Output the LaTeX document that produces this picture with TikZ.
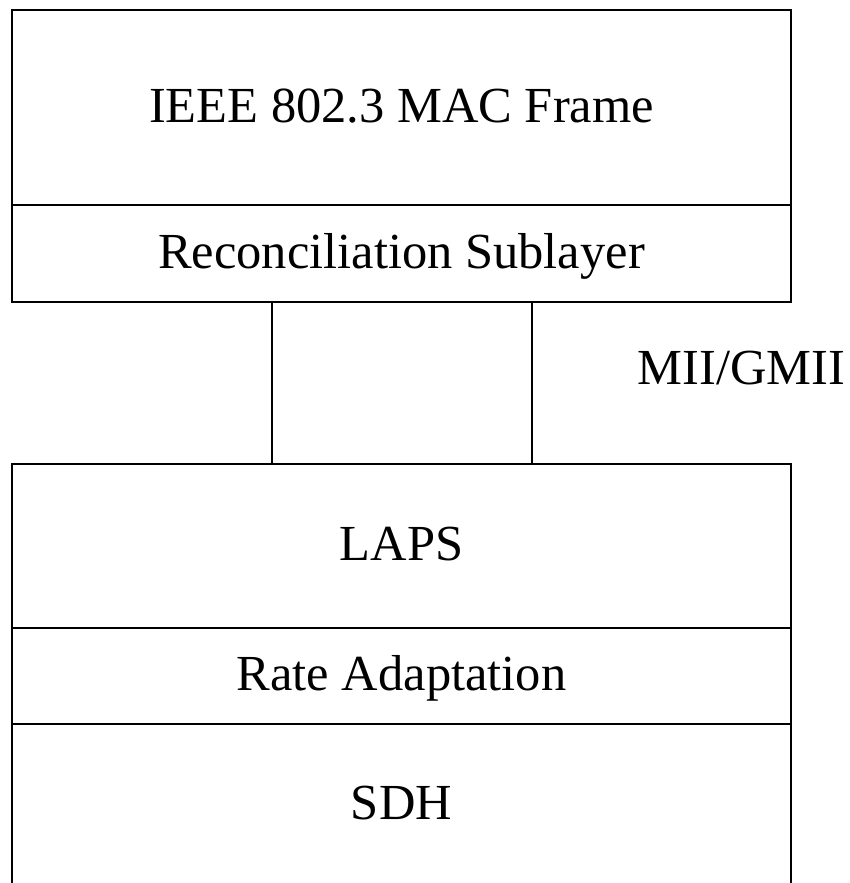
\documentclass[tikz,border=0pt]{standalone}
\usepackage{fontspec}
\setmainfont{Liberation Serif}
\usetikzlibrary{positioning}
\tikzset{
  layer/.style={
    rectangle,
    draw=black,
    line width=1pt,
    outer sep=0pt,
    inner sep=0pt,
    minimum width=389.5pt,
    text height=17.7pt,
    text depth=3pt,
    font=\fontsize{25.25}{30}\selectfont
  },
  label-text/.style={
    inner sep=0pt,
    text height=17.7pt,
    text depth=3pt,
    font=\fontsize{25.25}{30}\selectfont
  },
  link/.style={line width=1pt}
}

\begin{document}
\begin{tikzpicture}[x=0.5pt,y=-0.5pt]
  \useasboundingbox (0,0) rectangle (850,883);
  % Upper stack
  \node[layer, minimum height=97.5pt] (mac) at (401.5,107.5) {IEEE 802.3 MAC Frame};
  \node[layer, minimum height=48.5pt, below=0pt of mac] (rs) {Reconciliation Sublayer};
  % Lower stack
  \node[layer, minimum height=82pt] (laps) at (401.5,546) {LAPS};
  \node[layer, minimum height=48pt, below=0pt of laps] (rate) {Rate Adaptation};
  \node[layer, minimum height=81pt, below=0pt of rate] (sdh) {SDH};
  % Interface lines
  \draw[link] ([xshift=-65pt]rs.south) -- ([xshift=-65pt]laps.north);
  \draw[link] ([xshift=65pt]rs.south) -- ([xshift=65pt]laps.north);
  \node[label-text] (mii) at (741.5,370) {MII/GMII};
\end{tikzpicture}
\end{document}
